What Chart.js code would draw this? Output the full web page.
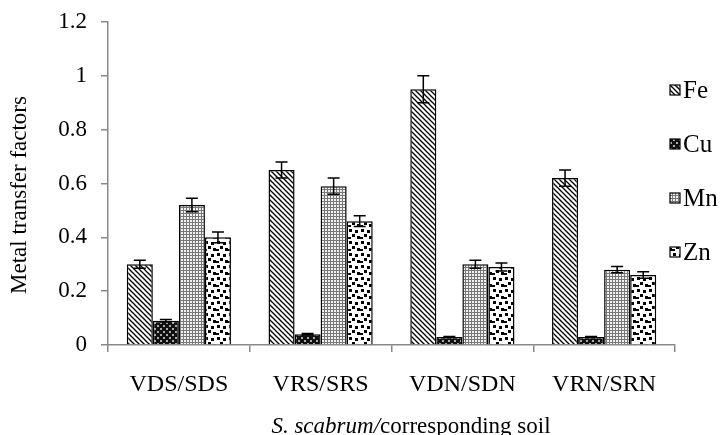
<!DOCTYPE html>
<html><head><meta charset="utf-8">
<script src="https://cdn.jsdelivr.net/npm/chart.js@4"></script>
<style>html,body{margin:0;padding:0;background:#fff}#w{width:725px;height:435px}</style>
</head><body><div id="w"><canvas id="c"></canvas></div>
<script>
const categories = ['VDS/SDS','VRS/SRS','VDN/SDN','VRN/SRN'];
const seriesNames = ['Fe','Cu','Mn','Zn'];
const feValues = [0.30, 0.65, 0.95, 0.62];
const cuValues = [0.09, 0.04, 0.03, 0.03];
const mnValues = [0.52, 0.59, 0.30, 0.28];
const znValues = [0.40, 0.46, 0.29, 0.26];
const feErrors = [0.015, 0.03, 0.05, 0.03];
const cuErrors = [0.005, 0.003, 0.002, 0.002];
const mnErrors = [0.025, 0.03, 0.015, 0.012];
const znErrors = [0.02, 0.02, 0.015, 0.012];
const yTicks = [0, 0.2, 0.4, 0.6, 0.8, 1, 1.2];
const yTitle = 'Metal transfer factors';
const xTitleItalic = 'S. scabrum/';
const xTitleRest = 'corresponding soil';

function tile(w, h, draw){
  const c = document.createElement('canvas'); c.width = w; c.height = h;
  const g = c.getContext('2d'); draw(g, w, h);
  return document.createElement('canvas').getContext('2d').createPattern(c, 'repeat');
}
const pFe = tile(5,5,(g,w,h)=>{g.fillStyle='#fff';g.fillRect(0,0,w,h);g.strokeStyle='#000';g.lineWidth=1.3;
  for(let k=-1;k<=1;k++){g.beginPath();g.moveTo(k*w-1,-1);g.lineTo(k*w+w+1,h+1);g.stroke();}});
const pCu = tile(6,6,(g,w,h)=>{g.fillStyle='#111';g.fillRect(0,0,w,h);g.fillStyle='#aaa';
  g.fillRect(1,1,2,2);g.fillRect(4,4,2,2);});
const pMn = tile(3,3,(g,w,h)=>{g.fillStyle='#f2f2f2';g.fillRect(0,0,w,h);g.fillStyle='#777';g.fillRect(0,0,3,1);g.fillRect(0,0,1,3);});
const pZn = tile(12,12,(g,w,h)=>{g.fillStyle='#fff';g.fillRect(0,0,w,h);g.fillStyle='#000';
  g.fillRect(1,1,3,3);g.fillRect(7,2,3,3);g.fillRect(4,6,3,3);g.fillRect(9,8,3,3);g.fillRect(0,9,3,2);});
const patterns = [pFe,pCu,pMn,pZn];
const values = [feValues,cuValues,mnValues,znValues];
const errors = [feErrors,cuErrors,mnErrors,znErrors];

const FONT = "'Liberation Serif','Times New Roman',serif";
const FS = 23;

const extras = {
  id:'extras',
  afterDatasetsDraw(chart){
    const ctx = chart.ctx, y = chart.scales.y;
    ctx.save(); ctx.strokeStyle='#000'; ctx.lineWidth=1.5;
    chart.data.datasets.forEach((ds,i)=>{
      const meta = chart.getDatasetMeta(i);
      meta.data.forEach((bar,j)=>{
        const v = ds.data[j], e = errors[i][j];
        const y1 = y.getPixelForValue(v+e), y2 = y.getPixelForValue(v-e), x = bar.x;
        ctx.beginPath(); ctx.moveTo(x,y1); ctx.lineTo(x,y2);
        ctx.moveTo(x-6,y1); ctx.lineTo(x+6,y1); ctx.moveTo(x-6,y2); ctx.lineTo(x+6,y2); ctx.stroke();
      });
    });
    ctx.restore();
  },
  afterDraw(chart){
    const ctx = chart.ctx; ctx.save();
    // legend
    ctx.font = '25px '+FONT; ctx.textBaseline='middle'; ctx.fillStyle='#000';
    seriesNames.forEach((n,i)=>{
      const cy = 90 + i*54;
      ctx.fillStyle = patterns[i]; ctx.fillRect(670,cy-5,10,10);
      ctx.strokeStyle='#000'; ctx.lineWidth=1.2; ctx.strokeRect(670,cy-5,10,10);
      ctx.fillStyle='#000'; ctx.textAlign='left'; ctx.fillText(n,683,cy+1);
    });
    // y title
    ctx.save(); ctx.translate(20,195); ctx.rotate(-Math.PI/2);
    ctx.textAlign='center'; ctx.textBaseline='middle'; ctx.font=FS+'px '+FONT; ctx.fillText(yTitle,0,0); ctx.restore();
    // x title
    ctx.font='italic '+FS+'px '+FONT; const w1 = ctx.measureText(xTitleItalic).width;
    ctx.font=FS+'px '+FONT; const w2 = ctx.measureText(xTitleRest).width;
    const x0 = 411 - (w1+w2)/2; ctx.textAlign='left'; ctx.textBaseline='alphabetic';
    ctx.font='italic '+FS+'px '+FONT; ctx.fillText(xTitleItalic,x0,433);
    ctx.font=FS+'px '+FONT; ctx.fillText(xTitleRest,x0+w1,433);
    ctx.restore();
  }
};

new Chart(document.getElementById('c'), {
  type:'bar',
  data:{ labels:categories, datasets: seriesNames.map((n,i)=>({
    label:n, data:values[i], backgroundColor:patterns[i], borderColor:'#000', borderWidth:1.5,
    categoryPercentage:0.735, barPercentage:1.0 })) },
  options:{
    responsive:true, maintainAspectRatio:false, animation:false, devicePixelRatio:1,
    layout:{padding:{top:22,right:50,left:0,bottom:0}},
    plugins:{legend:{display:false}, tooltip:{enabled:false}},
    scales:{
      x:{ grid:{drawOnChartArea:false, drawTicks:true, tickLength:7, color:'#888', lineWidth:1.5, offset:true},
          border:{color:'#888', width:1.5},
          ticks:{font:{family:FONT,size:24}, color:'#000', padding:18},
          afterFit(s){ s.height = 90; s.paddingLeft = 0; s.paddingRight = 0; } },
      y:{ min:0, max:1.2,
          afterBuildTicks(s){ s.ticks = yTicks.map(v=>({value:v})); },
          grid:{drawOnChartArea:false, drawTicks:true, tickLength:7, color:'#888', lineWidth:1.5},
          border:{color:'#888', width:1.5},
          ticks:{font:{family:FONT,size:FS}, color:'#000', padding:14, callback:v=>String(v)},
          afterFit(s){ s.width = 108; s.paddingTop = 0; s.paddingBottom = 0; } }
    }
  },
  plugins:[extras]
});
</script></body></html>
